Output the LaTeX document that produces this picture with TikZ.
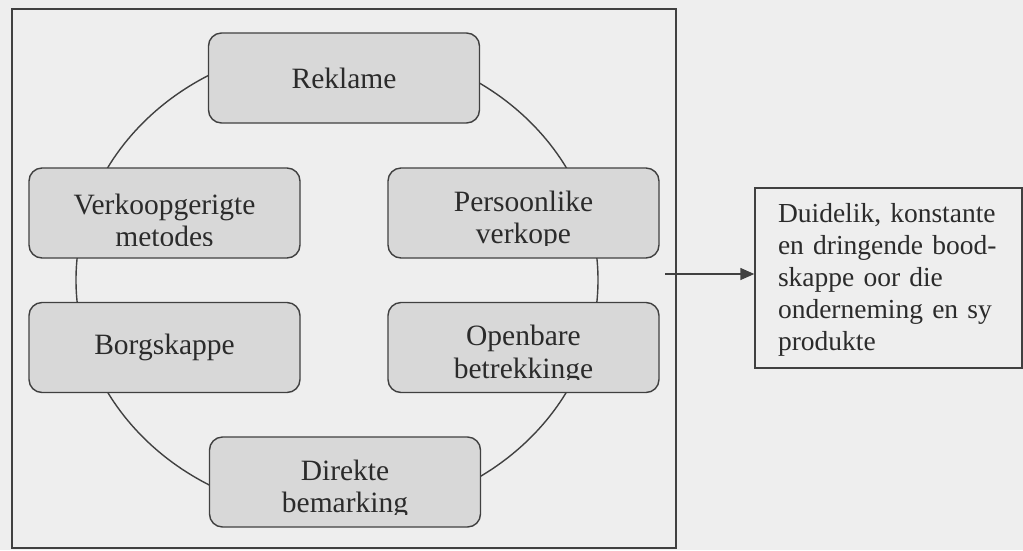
\documentclass[tikz,border=0pt]{standalone}
\usepackage{fontspec}
\setmainfont{Liberation Serif}
\usepackage{tikz}
\usetikzlibrary{arrows.meta}
\definecolor{pagegrey}{HTML}{EEEEEE}
\definecolor{toolgrey}{HTML}{D8D8D8}
\definecolor{edgegrey}{HTML}{404040}
\definecolor{inkgrey}{HTML}{2B2B2B}

\begin{document}
\begin{tikzpicture}[
  x=1pt, y=-1pt,
  font=\fontsize{29.5}{32.5}\selectfont,
  text=inkgrey,
  tool/.style={draw=edgegrey, line width=1.4pt, fill=toolgrey,
               rounded corners=13pt, minimum width=271pt,
               minimum height=90pt, inner sep=0pt, align=center},
  toollabel/.style={inner sep=0pt, align=center},
  msg/.style={draw=edgegrey, line width=1.4pt, fill=pagegrey, align=left,
              text width=221pt, minimum height=180pt, inner xsep=23pt,
              inner ysep=0pt, font=\fontsize{27.5}{32}\selectfont},
  >={Triangle[length=14pt, width=12pt]}]

\useasboundingbox[fill=pagegrey] (0,0) rectangle (1023,550);

% ---------------- frame and ring ----------------
\draw[line width=2pt, edgegrey] (12,9) rectangle (676,548);
\draw[line width=1.4pt, edgegrey] (337,280)
  ellipse [x radius=261pt, y radius=235pt];

% ---------------- the six tools ----------------
\node[tool] (reklame) at (344,78)    {Reklame};
\node[tool] (verkoop) at (164.5,213) {};
\node[tool] (pers)    at (523.5,213) {};
\node[tool] (borg)    at (164.5,347.5) {Borgskappe};
\node[tool] (open)    at (523.5,347.5) {};
\node[tool] (direk)   at (345,482)   {};
% two-line labels, lower line cut short like the boxes
\foreach \n/\t in {verkoop/{Verkoopgerigte\\metodes},
                   pers/{Persoonlike\\verkope},
                   open/{Openbare\\betrekkinge},
                   direk/{Direkte\\bemarking}}{
  \begin{scope}
    \clip (\n.north west) rectangle ([yshift=13.5pt]\n.south east);
    \node[toollabel] (\n-label) at ([yshift=-7.5pt]\n.center) {\t};
  \end{scope}}

% ---------------- outcome ----------------
\node[msg] (result) at (888.5,278)
  {\rule{0pt}{22pt}Duidelik, konstante\\en dringende bood-\\skappe oor die\\
   onderneming en sy\\produkte};
\coordinate (feed) at (665,274);
\draw[->, line width=1.4pt, edgegrey] (feed) -- (feed -| result.west);
\end{tikzpicture}
\end{document}
